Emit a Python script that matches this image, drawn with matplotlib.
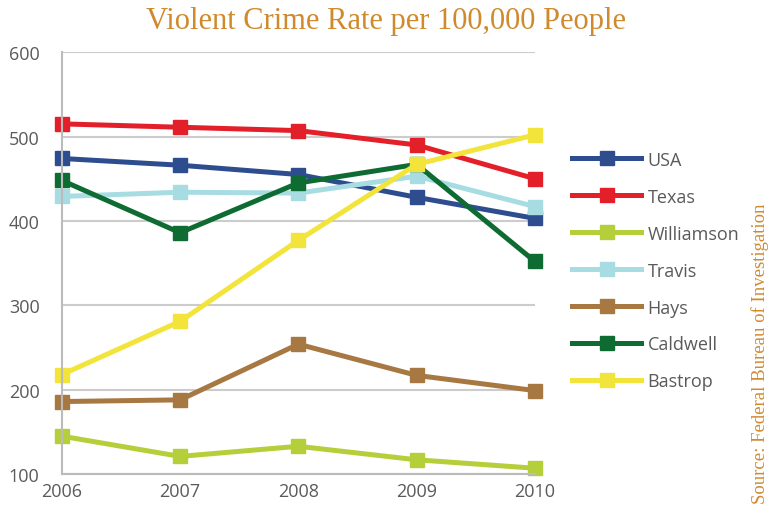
import matplotlib
matplotlib.use("Agg")
import matplotlib.pyplot as plt

# --- data ---
years = [2006, 2007, 2008, 2009, 2010]
usa = [474, 466, 455, 428, 403]
texas = [515, 511, 507, 490, 450]
williamson = [145, 121, 133, 117, 107]
travis = [429, 434, 433, 453, 417]
hays = [186, 188, 254, 217, 199]
caldwell = [448, 386, 445, 467, 352]
bastrop = [218, 281, 377, 467, 502]

series = [
    ("USA", usa, "#2E4D8F"),
    ("Texas", texas, "#E3202A"),
    ("Williamson", williamson, "#B5CF3B"),
    ("Travis", travis, "#A8DCE3"),
    ("Hays", hays, "#A87843"),
    ("Caldwell", caldwell, "#0E6B32"),
    ("Bastrop", bastrop, "#F2E43A"),
]

orange = "#D08A2E"
grey_txt = "#5A5A5A"

fig = plt.figure(figsize=(7.73, 5.06), dpi=100)
ax = fig.add_axes([0.080, 0.061, 0.612, 0.834])

for name, vals, col in series:
    ax.plot(years, vals, color=col, lw=3.6, marker="s", markersize=10.5,
            label=name, clip_on=False)

ax.set_xlim(2006, 2010)
ax.set_ylim(100, 600)
ax.set_xticks(years)
ax.set_yticks([100, 200, 300, 400, 500, 600])
ax.grid(axis="y", color="#CCCCCC", lw=1.5)
ax.set_axisbelow(True)
for s in ["top", "right"]:
    ax.spines[s].set_visible(False)
ax.spines["left"].set_color("#BBBBBB")
ax.spines["bottom"].set_color("#BBBBBB")
ax.spines["left"].set_linewidth(1.5)
ax.spines["bottom"].set_linewidth(1.5)
ax.tick_params(axis="y", length=0, labelsize=13, labelcolor=grey_txt, pad=16)
ax.tick_params(axis="x", length=0, labelsize=13, labelcolor=grey_txt, pad=6)
for lbl in ax.get_xticklabels() + ax.get_yticklabels():
    lbl.set_fontfamily("Open Sans")

leg = ax.legend(loc="upper left", bbox_to_anchor=(1.045, 0.805), frameon=False,
                handlelength=3.8, labelspacing=1.05, handletextpad=0.35,
                prop={"family": "Open Sans", "size": 13})
for t in leg.get_texts():
    t.set_color(grey_txt)

fig.text(0.5, 0.957, "Violent Crime Rate per 100,000 People", ha="center",
         va="center", color=orange, fontsize=22, family="Liberation Serif")
fig.text(0.983, 0.30, "Source: Federal Bureau of Investigation", rotation=90,
         ha="center", va="center", color=orange, fontsize=13.5,
         family="Liberation Serif")

fig.savefig("out.png", dpi=100)
